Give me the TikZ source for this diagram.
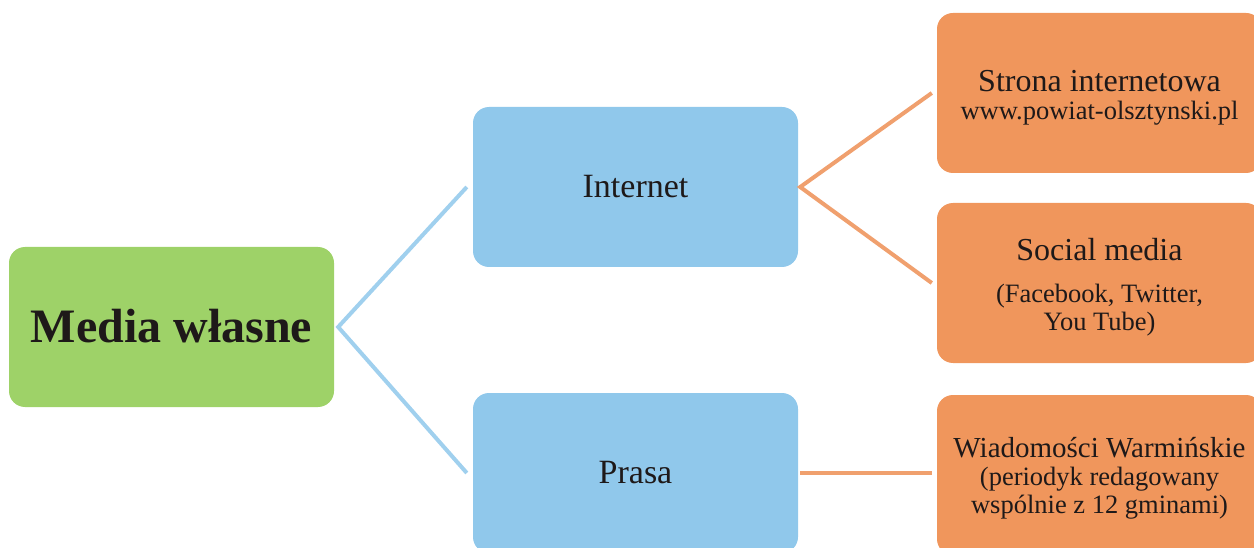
\documentclass[tikz,border=0pt]{standalone}
\usepackage{fontspec}
\setmainfont{Liberation Serif}
\definecolor{gfill}{RGB}{158,210,104}
\definecolor{bfill}{RGB}{144,200,235}
\definecolor{ofill}{RGB}{240,150,92}
\definecolor{bline}{RGB}{160,208,238}
\definecolor{oline}{RGB}{240,160,110}
\definecolor{ink}{RGB}{30,25,25}
\begin{document}
\begin{tikzpicture}[x=1pt,y=-1pt,
  box/.style={rectangle,rounded corners=16pt,minimum width=325pt,minimum height=160pt,inner sep=0pt,align=center,text=ink},
  gbox/.style={box,fill=gfill},
  bbox/.style={box,fill=bfill,font=\fontsize{34}{36}\selectfont},
  obox/.style={box,fill=ofill},
  otext/.style={inner sep=0pt,align=center,text=ink,font=\fontsize{26.5}{28}\selectfont},
  bconn/.style={draw=bline,line width=4pt},
  oconn/.style={draw=oline,line width=4pt}]
\useasboundingbox (0,0) rectangle (1254,548);
\clip (0,0) rectangle (1254,548);
\node[gbox,font=\fontsize{48}{50}\selectfont\bfseries] (mw) at (171.5,327) {\raisebox{3pt}{Media własne}};
\node[bbox] (inet) at (635.5,187) {Internet};
\node[bbox] (prasa) at (635.5,473) {Prasa};
\node[obox] (str) at (1099.5,93) {};
\node[obox] (soc) at (1099.5,283) {};
\node[obox] (wiad) at (1099.5,475) {};
\node[otext] (strT) at ([yshift=-5pt]str.center) {{\fontsize{32}{34}\selectfont Strona internetowa}\\www.powiat-olsztynski.pl};
\node[otext] (socT) at ([yshift=-4pt]soc.center) {{\fontsize{32}{34}\selectfont Social media}\\[14pt](Facebook, Twitter,\\You Tube)};
\node[otext] (wiadT) at ([yshift=-3pt]wiad.center) {{\fontsize{29}{30}\selectfont Wiadomości Warmińskie}\\(periodyk redagowany\\wspólnie z 12 gminami)};
\coordinate (j1) at ([xshift=4pt]mw.east);
\coordinate (j2) at ([xshift=2pt]inet.east);
\draw[bconn] ([xshift=-6pt]inet.west) -- (j1) -- ([xshift=-6pt]prasa.west);
\draw[oconn] ([xshift=-5pt]str.west) -- (j2) -- ([xshift=-5pt]soc.west);
\draw[oconn] ([xshift=2pt]prasa.east) -- ([xshift=-5pt]wiad.west |- prasa.east);
\end{tikzpicture}
\end{document}
